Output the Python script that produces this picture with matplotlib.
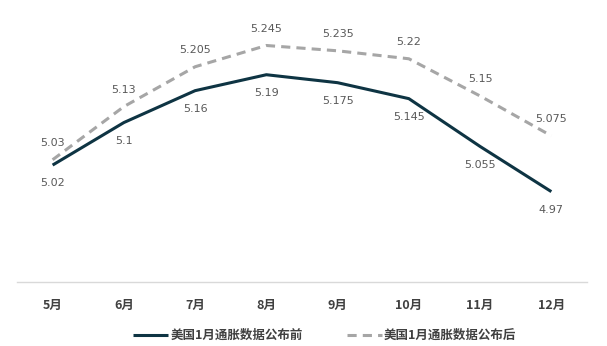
import matplotlib
matplotlib.use("Agg")
import matplotlib.pyplot as plt

plt.rcParams["font.family"] = ["Noto Sans CJK SC", "DejaVu Sans"]

months = ["5月", "6月", "7月", "8月", "9月", "10月", "11月", "12月"]
before = [5.02, 5.1, 5.16, 5.19, 5.175, 5.145, 5.055, 4.97]
after = [5.03, 5.13, 5.205, 5.245, 5.235, 5.22, 5.15, 5.075]
before_labels = ["5.02", "5.1", "5.16", "5.19", "5.175", "5.145", "5.055", "4.97"]
after_labels = ["5.03", "5.13", "5.205", "5.245", "5.235", "5.22", "5.15", "5.075"]
series_names = ["美国1月通胀数据公布前", "美国1月通胀数据公布后"]

col_before = "#0e3443"
col_after = "#a6a6a6"
col_text = "#595959"

fig = plt.figure(figsize=(6.07, 3.46), dpi=100)
ax = fig.add_axes([0.028, 0.185, 0.939, 0.768])

x = list(range(len(months)))
ax.plot(x, before, color=col_before, lw=2.2, solid_capstyle="butt", label=series_names[0])
ax.plot(x, after, color=col_after, lw=2.2, linestyle=(0, (3, 2)), label=series_names[1])

num_font = ["Liberation Sans Narrow", "DejaVu Sans"]
for i in x:
    ax.annotate(before_labels[i], (i, before[i]), xytext=(0, -13), textcoords="offset points",
                ha="center", va="center", fontsize=8, color=col_text, family=num_font)
    ax.annotate(after_labels[i], (i, after[i]), xytext=(0, 12), textcoords="offset points",
                ha="center", va="center", fontsize=8, color=col_text, family=num_font)

ax.set_xlim(-0.5, len(months) - 0.5)
ax.set_ylim(4.8, 5.3)
ax.set_xticks(x)
ax.set_xticklabels(months, fontsize=9, fontweight="bold", color="#404040")
ax.set_yticks([])
ax.tick_params(axis="x", length=0, pad=12)
for s in ["top", "right", "left"]:
    ax.spines[s].set_visible(False)
ax.spines["bottom"].set_color("#d9d9d9")
ax.spines["bottom"].set_linewidth(1)

leg = fig.legend(loc="center", bbox_to_anchor=(0.535, 0.03), ncol=2, frameon=False,
                 fontsize=9, handlelength=2.8, handletextpad=0.2, columnspacing=3.5)
for t in leg.get_texts():
    t.set_fontweight("bold")
    t.set_color("#404040")

plt.savefig("out.png", dpi=100)
